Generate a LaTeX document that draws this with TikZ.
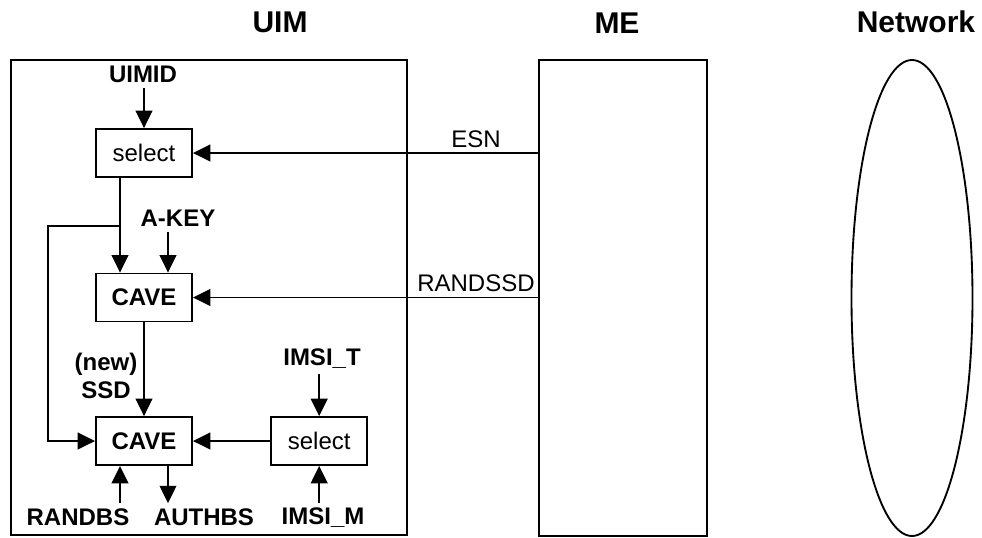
\documentclass[tikz,border=0pt]{standalone}
\usepackage{fontspec}
\setmainfont{Liberation Sans}
\usepackage{tikz}
\usetikzlibrary{arrows.meta,positioning,shapes.geometric}

\begin{document}
\begin{tikzpicture}[x=0.75pt,y=0.75pt,line width=1.4pt,
  txt/.style={font=\fontsize{18}{21}\selectfont},
  lbl/.style={font=\fontsize{18}{21}\selectfont\bfseries},
  ttl/.style={font=\fontsize{22.5}{26}\selectfont\bfseries},
  blk/.style={draw,minimum width=72pt,minimum height=36pt,inner sep=0pt},
  arr/.style={-{Triangle[length=13pt,width=12.5pt]}}]
  \useasboundingbox (0,0) rectangle (982,-537);
  % titles
  \node[ttl] (uimt) at (280,-22) {UIM};
  \node[ttl] (met) at (617,-23) {ME};
  \node[ttl] (nett) at (916,-22) {Network};
  % the three parties
  \node[draw,minimum width=297pt,minimum height=356pt] (uim) at (209,-297.5) {};
  \node[draw,minimum width=126pt,minimum height=357pt] (me) at (623,-298) {};
  \node[draw,ellipse,inner sep=0pt,minimum width=90.75pt,minimum height=357pt] (net) at (912,-298) {};
  % inside the UIM
  \node[blk,txt] (sel1) at (144,-153) {select};
  \node[blk,lbl] (cave1) at (144,-297.5) {CAVE};
  \node[blk,lbl] (cave2) at (144,-441) {CAVE};
  \node[blk,txt,right=58pt of cave2] (sel2) {select};
  \node[lbl] (uimid) at (143,-74) {UIMID};
  \node[lbl] (akey) at (178,-218) {A-KEY};
  \node[lbl,align=center] (ssd) at (106,-376) {(new)\\SSD};
  \node[lbl] (imsit) at (322,-359) {IMSI\_T};
  \node[lbl] (randbs) at (78,-517) {RANDBS};
  \node[lbl] (authbs) at (204,-517) {AUTHBS};
  \node[lbl] (imsim) at (323,-518) {IMSI\_M};
  \coordinate (s1b) at ([xshift=-18pt]sel1.south);
  \coordinate (c1a) at ([xshift=-18pt]cave1.north);
  \coordinate (c1b) at ([xshift=18pt]cave1.north);
  \coordinate (c2a) at ([xshift=-18pt]cave2.south);
  \coordinate (c2b) at ([xshift=18pt]cave2.south);
  \coordinate (lp) at (48,-226);
  % connectors
  \draw[arr] (uimid.south -| sel1) -- (sel1);
  \draw[arr] (me.west |- sel1) -- node[txt,above,pos=.18] (esn) {ESN} (sel1);
  \draw[arr] (me.west |- cave1) -- node[txt,above,pos=.18] (randssd) {RANDSSD} (cave1);
  \draw[arr] (s1b) -- (c1a);
  \draw[arr] (s1b |- lp) -- (lp) |- (cave2);
  \draw[arr] (akey.south -| c1b) -- (c1b);
  \draw[arr] (cave1) -- (cave2);
  \draw[arr] (imsit.south -| sel2) -- (sel2);
  \draw[arr] (sel2) -- (cave2);
  \draw[arr] (randbs.north -| c2a) -- (c2a);
  \draw[arr] (c2b) -- (authbs.north -| c2b);
  \draw[arr] (imsim.north -| sel2) -- (sel2);
\end{tikzpicture}
\end{document}
